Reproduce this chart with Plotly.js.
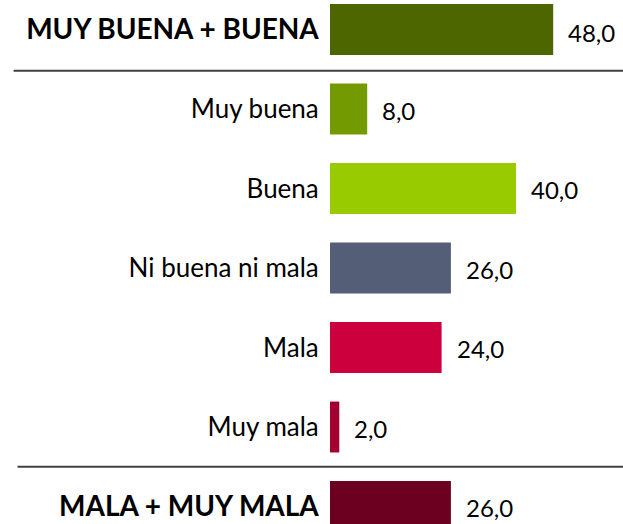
<!DOCTYPE html>
<html>
<head>
<meta charset="utf-8">
<script src="https://cdn.plot.ly/plotly-3.0.1.min.js"></script>
<style>html,body{margin:0;padding:0;background:#fff;}#chart{width:623px;height:524px;}</style>
</head>
<body>
<div id="chart"></div>
<script>
var categories = ["MUY BUENA + BUENA", "Muy buena", "Buena", "Ni buena ni mala", "Mala", "Muy mala", "MALA + MUY MALA"];
var values = [48.0, 8.0, 40.0, 26.0, 24.0, 2.0, 26.0];
var isTotal = [true, false, false, false, false, false, true];
var barColors = ["#4E6600", "#739B00", "#99CC00", "#545F77", "#CC003D", "#A2002F", "#6B0020"];

var FONT = "Lato, 'Open Sans', sans-serif";

var tickText = categories.map(function (c, i) {
  return isTotal[i] ? '<span style="font-size:28px;font-weight:bold">' + c + '</span>' : c;
});

var trace = {
  type: "bar",
  orientation: "h",
  y: categories,
  x: values,
  width: 0.64,
  marker: { color: barColors, line: { width: 0 } },
  hoverinfo: "none"
};

var annotations = categories.map(function (c, i) {
  return {
    x: values[i], y: c, xref: "x", yref: "y",
    text: values[i].toFixed(1).replace(".", ","),
    showarrow: false, xanchor: "left", yanchor: "middle",
    xshift: 13, yshift: i === 0 ? -3 : -1,
    font: { family: FONT, size: 24, color: "#000" }
  };
});

var layout = {
  width: 623, height: 524,
  margin: { l: 330, r: 14, t: 0, b: 0 },
  paper_bgcolor: "#fff", plot_bgcolor: "#fff",
  showlegend: false,
  xaxis: { range: [0, 60], visible: false, fixedrange: true },
  yaxis: {
    type: "category",
    range: [6.22, -0.371],
    tickmode: "array", tickvals: categories, ticktext: tickText,
    ticks: "outside", ticklen: 5, tickcolor: "rgba(0,0,0,0)",
    showline: false, showgrid: false, zeroline: false,
    tickfont: { family: FONT, size: 26, color: "#000" },
    fixedrange: true
  },
  shapes: [
    { type: "line", xref: "paper", yref: "y", x0: -1.134, x1: 1.06, y0: 0.52, y1: 0.52, line: { color: "#404040", width: 2 } },
    { type: "line", xref: "paper", yref: "y", x0: -1.12, x1: 1.06, y0: 5.5, y1: 5.5, line: { color: "#404040", width: 2 } }
  ],
  annotations: annotations
};

Plotly.newPlot("chart", [trace], layout, { staticPlot: true, displayModeBar: false });
</script>
</body>
</html>
